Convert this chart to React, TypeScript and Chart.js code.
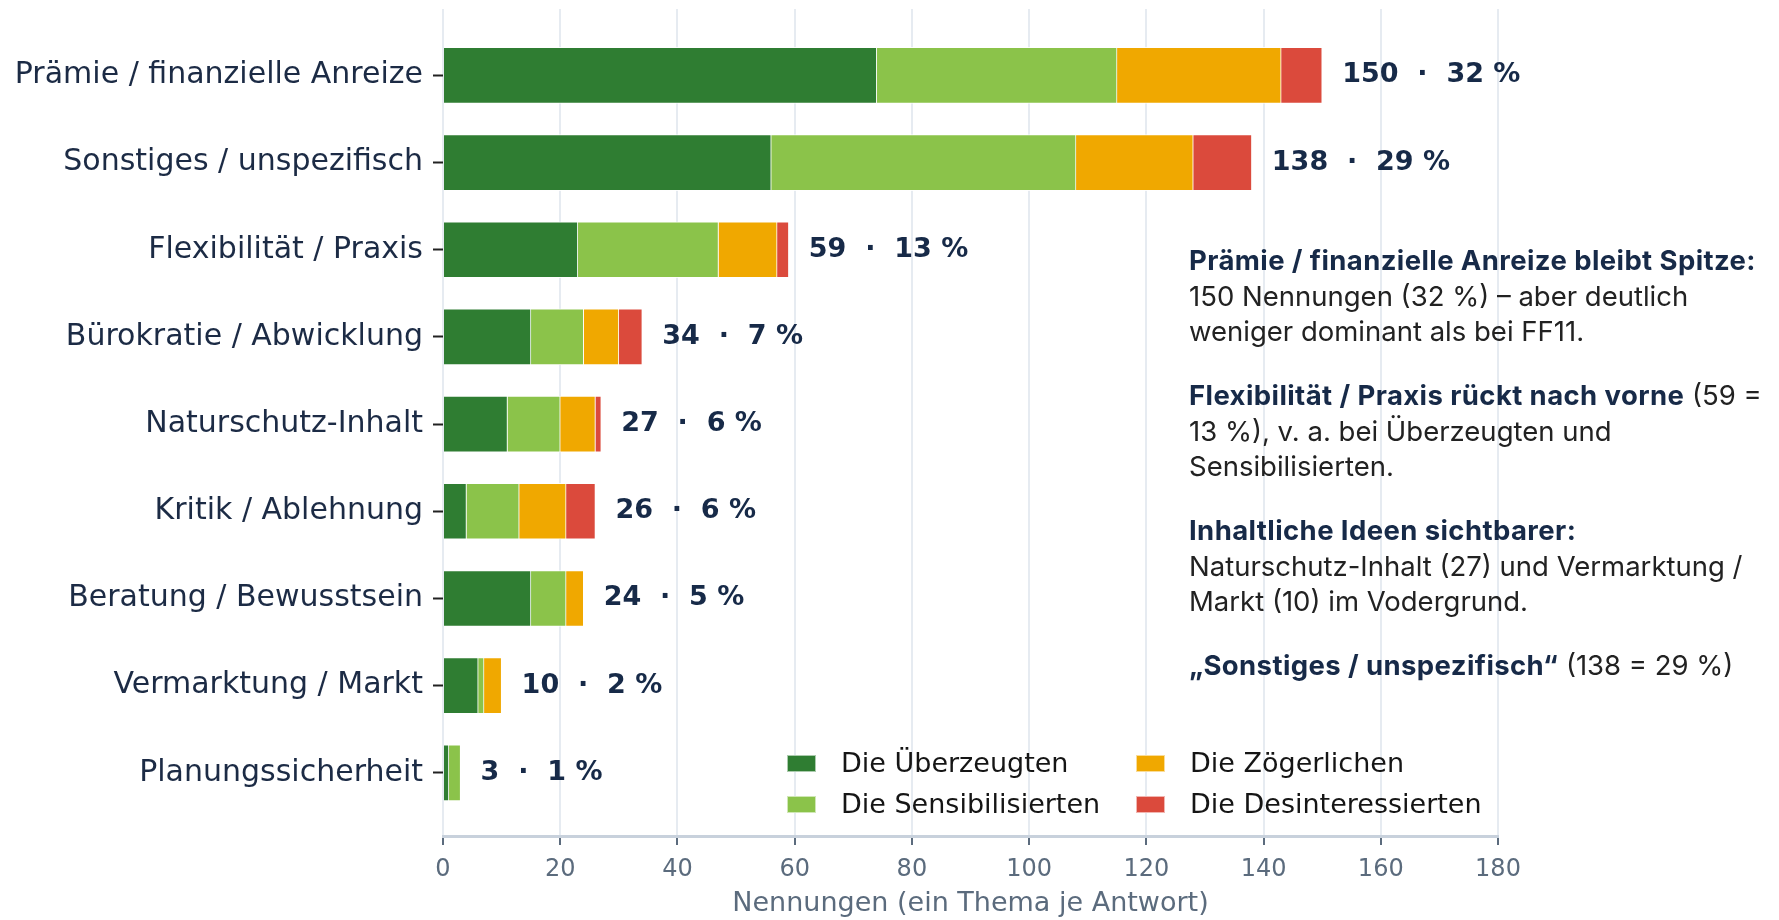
import React, { useEffect, useRef } from "react";
import { Chart, registerables } from "chart.js";

Chart.register(...registerables);

const categories = [
  "Prämie / finanzielle Anreize",
  "Sonstiges / unspezifisch",
  "Flexibilität / Praxis",
  "Bürokratie / Abwicklung",
  "Naturschutz-Inhalt",
  "Kritik / Ablehnung",
  "Beratung / Bewusstsein",
  "Vermarktung / Markt",
  "Planungssicherheit",
];

const seriesNames = [
  "Die Überzeugten",
  "Die Sensibilisierten",
  "Die Zögerlichen",
  "Die Desinteressierten",
];

const ueberzeugten = [74, 56, 23, 15, 11, 4, 15, 6, 1];
const sensibilisierten = [41, 52, 24, 9, 9, 9, 6, 1, 2];
const zoegerlichen = [28, 20, 10, 6, 6, 8, 3, 3, 0];
const desinteressierten = [7, 10, 2, 4, 1, 5, 0, 0, 0];

const percents = [32, 29, 13, 7, 6, 6, 5, 2, 1];

const seriesColors = ["#2f7d32", "#8bc34a", "#f0a800", "#db4a3c"];

const xMin = 0;
const xMax = 180;
const xStep = 20;
const xTitle = "Nennungen (ein Thema je Antwort)";

const FONT = "'DejaVu Sans', sans-serif";
const NAVY = "#172a48";

const allSeries = [ueberzeugten, sensibilisierten, zoegerlichen, desinteressierten];

const valueLabelPlugin = {
  id: "valueLabels",
  afterDatasetsDraw(chart: any) {
    const { ctx } = chart;
    const xs = chart.scales.x;
    const ys = chart.scales.y;
    ctx.save();
    ctx.font = `bold 27px ${FONT}`;
    ctx.fillStyle = NAVY;
    ctx.textBaseline = "middle";
    ctx.textAlign = "left";
    categories.forEach((_, i) => {
      const total = allSeries.reduce((s, arr) => s + arr[i], 0);
      const x = xs.getPixelForValue(total) + 20;
      const y = ys.getPixelForValue(i);
      ctx.fillText(`${total}  ·  ${percents[i]} %`, x, y);
    });
    ctx.restore();
  },
};

const legendPlugin = {
  id: "innerLegend",
  afterDraw(chart: any) {
    const { ctx } = chart;
    const ds = chart.data.datasets;
    const cols = [787, 1136];
    const rows = [763.5, 804.5];
    ctx.save();
    ctx.font = `27px ${FONT}`;
    ctx.textBaseline = "middle";
    ctx.textAlign = "left";
    ds.forEach((d: any, i: number) => {
      const cx = cols[Math.floor(i / 2)];
      const cy = rows[i % 2];
      ctx.fillStyle = d.backgroundColor;
      ctx.fillRect(cx, cy - 8.5, 29, 17);
      ctx.strokeStyle = "rgba(255,255,255,0.6)";
      ctx.lineWidth = 1;
      ctx.strokeRect(cx + 0.5, cy - 8, 28, 16);
      ctx.fillStyle = "#151515";
      ctx.fillText(d.label, cx + 54, cy + 1);
    });
    ctx.restore();
  },
};

function ChartCanvas() {
  const ref = useRef<HTMLCanvasElement | null>(null);
  useEffect(() => {
    if (!ref.current) return;
    const chart = new Chart(ref.current, {
      type: "bar",
      data: {
        datasets: allSeries.map((arr, k) => ({
          label: seriesNames[k],
          data: arr.map((v, i) => ({ x: v, y: i })),
          backgroundColor: seriesColors[k],
          borderColor: "rgba(255,255,255,0.85)",
          borderWidth: 1,
          barThickness: 56,
          stack: "s",
        })),
      },
      options: {
        indexAxis: "y",
        animation: false,
        responsive: true,
        maintainAspectRatio: false,
        layout: { padding: { top: 9, right: 281, left: 0, bottom: 0 } },
        plugins: {
          legend: { display: false },
          tooltip: { enabled: false },
        },
        scales: {
          x: {
            type: "linear",
            stacked: true,
            min: xMin,
            max: xMax,
            afterFit: (s: any) => {
              s.height = 84;
            },
            ticks: {
              stepSize: xStep,
              color: "#5b6b7d",
              font: { family: FONT, size: 24 },
              padding: 10,
            },
            grid: {
              color: "#e6ebf1",
              lineWidth: 2,
              tickLength: 9,
              tickColor: "#5b6b7d",
              tickWidth: 2,
            },
            border: { display: true, color: "#c8d1dc", width: 3 },
            title: {
              display: true,
              text: xTitle,
              color: "#5b6b7d",
              font: { family: FONT, size: 27 },
              padding: { top: 0, bottom: 0 },
            },
          },
          y: {
            type: "linear",
            reverse: true,
            offset: false,
            min: -0.762,
            max: 8.725,
            afterFit: (s: any) => {
              s.width = 443;
              s.paddingTop = 0;
              s.paddingBottom = 0;
            },
            afterBuildTicks: (s: any) => {
              s.ticks = categories.map((_, i) => ({ value: i }));
            },
            ticks: {
              callback: (v: any) => categories[v as number] ?? "",
              color: "#1c2b45",
              font: { family: FONT, size: 30 },
              padding: 10,
              autoSkip: false,
            },
            grid: {
              offset: false,
              drawOnChartArea: false,
              drawTicks: true,
              tickLength: 10,
              tickColor: "#222222",
              tickWidth: 2,
            },
            border: { display: false },
          },
        },
      },
      plugins: [valueLabelPlugin, legendPlugin],
    } as any);
    return () => chart.destroy();
  }, []);
  return <canvas ref={ref} />;
}

const noteFont = "Inter, 'Open Sans', sans-serif";
const boldStyle: React.CSSProperties = {
  fontWeight: 700,
  color: "#172a48",
  letterSpacing: "0.4px",
};

export default function App() {
  return (
    <div
      style={{
        position: "absolute",
        left: 0,
        top: 0,
        width: 1779,
        height: 920,
        background: "#ffffff",
        overflow: "hidden",
      }}
    >
      <div style={{ position: "absolute", left: 0, top: 0, width: 1779, height: 920 }}>
        <ChartCanvas />
      </div>
      <div
        style={{
          position: "absolute",
          left: 1189,
          top: 243,
          fontFamily: noteFont,
          fontSize: 27.5,
          lineHeight: "35.5px",
          color: "#222222",
          whiteSpace: "nowrap",
        }}
      >
        <div style={{ marginBottom: 28.5 }}>
          <span style={boldStyle}>Prämie / finanzielle Anreize bleibt Spitze:</span>
          <br />
          150 Nennungen (32 %) – aber deutlich
          <br />
          weniger dominant als bei FF11.
        </div>
        <div style={{ marginBottom: 28.5 }}>
          <span style={boldStyle}>Flexibilität / Praxis rückt nach vorne</span> (59 =
          <br />
          13 %), v. a. bei Überzeugten und
          <br />
          Sensibilisierten.
        </div>
        <div style={{ marginBottom: 28.5 }}>
          <span style={boldStyle}>Inhaltliche Ideen sichtbarer:</span>
          <br />
          Naturschutz-Inhalt (27) und Vermarktung /
          <br />
          Markt (10) im Vodergrund.
        </div>
        <div>
          <span style={boldStyle}>„Sonstiges / unspezifisch“</span> (138 = 29 %)
        </div>
      </div>
    </div>
  );
}
